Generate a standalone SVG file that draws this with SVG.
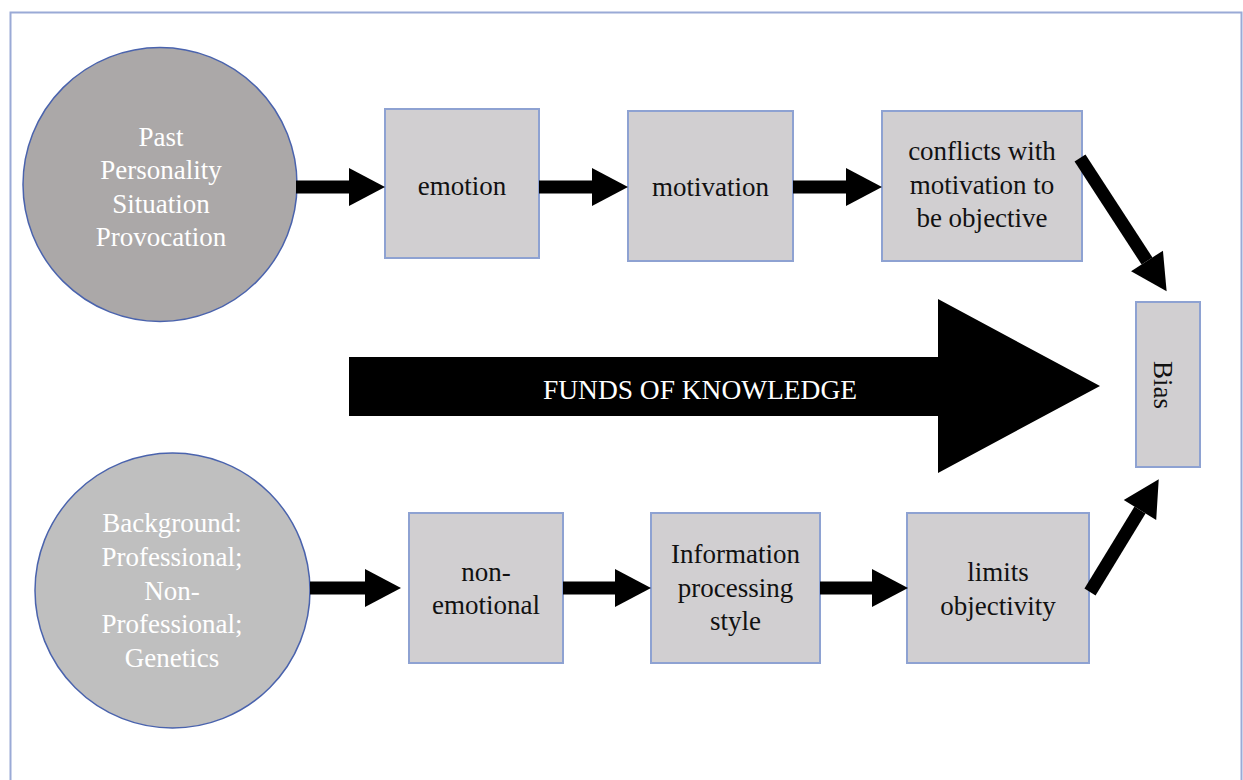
<svg xmlns="http://www.w3.org/2000/svg" width="1243" height="780" viewBox="0 0 1243 780">
<defs>
<style>
.t{font-family:"Liberation Serif","Times New Roman",serif;font-size:27px;text-anchor:middle;fill:#111}
.w{fill:#fff}
.box{fill:#d1cfd1;stroke:#8ea2d2;stroke-width:2}
.circ{stroke:#4a63ad;stroke-width:1.5}
.conn{stroke:#000;stroke-width:13;fill:none;marker-end:url(#ah)}
</style>
<marker id="ah" markerUnits="userSpaceOnUse" markerWidth="36" markerHeight="38" refX="0" refY="19" orient="auto" overflow="visible">
<path d="M0,0 L36,19 L0,38 Z" fill="#000"/>
</marker>
</defs>
<rect x="0" y="0" width="1243" height="780" fill="#fff"/>
<rect x="10.5" y="12.5" width="1231" height="790" fill="none" stroke="#9aaad6" stroke-width="2"/>

<g id="past">
<circle class="circ" cx="160" cy="184.5" r="137" fill="#aba8a8"/>
<text class="t w" x="161" y="145.5">Past</text>
<text class="t w" x="161" y="179">Personality</text>
<text class="t w" x="161" y="212.5">Situation</text>
<text class="t w" x="161" y="246">Provocation</text>
</g>

<g id="background">
<circle class="circ" cx="172.5" cy="590.5" r="137.5" fill="#bfbfbf"/>
<text class="t w" x="172" y="532">Background:</text>
<text class="t w" x="172" y="566">Professional;</text>
<text class="t w" x="172" y="599.5">Non-</text>
<text class="t w" x="172" y="633">Professional;</text>
<text class="t w" x="172" y="667">Genetics</text>
</g>

<g id="emotion">
<rect class="box" x="385" y="109" width="154" height="149"/>
<text class="t" x="462" y="195">emotion</text>
</g>

<g id="motivation">
<rect class="box" x="628" y="111" width="165" height="150"/>
<text class="t" x="710.5" y="196">motivation</text>
</g>

<g id="conflicts">
<rect class="box" x="882" y="111" width="200" height="150"/>
<text class="t" x="982" y="160">conflicts with</text>
<text class="t" x="982" y="194">motivation to</text>
<text class="t" x="982" y="227">be objective</text>
</g>

<g id="bias">
<rect class="box" x="1136" y="302" width="64" height="165"/>
<text class="t" transform="translate(1154,385) rotate(90)" x="0" y="0">Bias</text>
</g>

<g id="nonemotional">
<rect class="box" x="409" y="513" width="154" height="150"/>
<text class="t" x="486" y="581">non-</text>
<text class="t" x="486" y="614">emotional</text>
</g>

<g id="information">
<rect class="box" x="651" y="513" width="169" height="150"/>
<text class="t" x="735.5" y="563">Information</text>
<text class="t" x="735.5" y="597">processing</text>
<text class="t" x="735.5" y="630">style</text>
</g>

<g id="limits">
<rect class="box" x="907" y="513" width="182" height="150"/>
<text class="t" x="998" y="581">limits</text>
<text class="t" x="998" y="615">objectivity</text>
</g>

<g id="funds">
<path d="M349,357 L938,357 L938,299 L1100,386 L938,473 L938,416 L349,416 Z" fill="#000"/>
<text class="t w" x="700" y="399" textLength="314" lengthAdjust="spacingAndGlyphs">FUNDS OF KNOWLEDGE</text>
</g>

<g id="connectors">
<line class="conn" x1="296" y1="187" x2="349" y2="187"/>
<line class="conn" x1="539" y1="187" x2="592" y2="187"/>
<line class="conn" x1="793" y1="187" x2="846" y2="187"/>
<line class="conn" x1="1080" y1="158" x2="1147" y2="261"/>
<line class="conn" x1="310" y1="588" x2="365" y2="588"/>
<line class="conn" x1="563" y1="588" x2="615" y2="588"/>
<line class="conn" x1="820" y1="588" x2="872" y2="588"/>
<line class="conn" x1="1090" y1="592" x2="1140" y2="510"/>
</g>
</svg>
